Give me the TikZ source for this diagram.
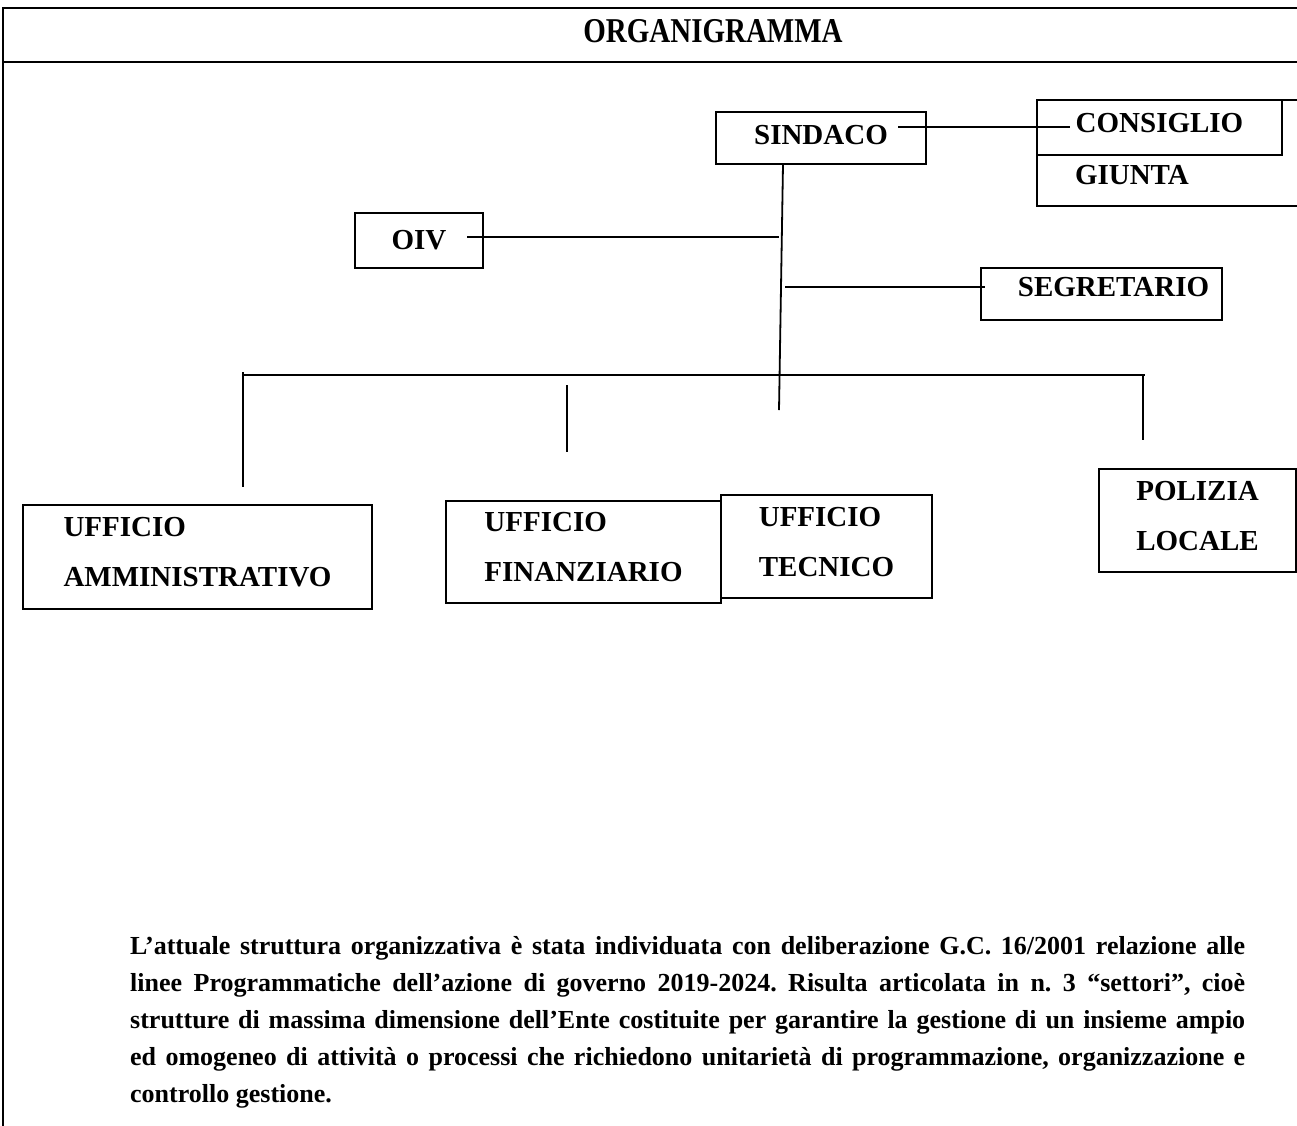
\documentclass[tikz,border=0pt]{standalone}
\usepackage{fontspec}
\setmainfont{Liberation Serif}
\usepackage{tikz}
\usetikzlibrary{positioning,calc}
\tikzset{
  office/.style={draw,line width=2.6pt,align=left,inner sep=0pt,outer sep=0pt,
    font=\bfseries\fontsize{29}{50}\selectfont},
  lift/.style={execute at end node={\rule[-#1]{0pt}{#1}}},
  link/.style={line width=1.8pt},
  frame/.style={line width=2.8pt},
  caption/.style={inner sep=0pt,align=left,anchor=north west,
    font=\bfseries\fontsize{26}{37}\selectfont\frenchspacing}
}

\begin{document}
\begin{tikzpicture}[x=1pt,y=-1pt]
  \clip (0,0) rectangle (1297,1125);
  \fill[white] (0,0) rectangle (1297,1125);
  \draw[frame] (1300,8) -- (3,8) -- (3,1130);
  \draw[frame] (3,62) -- (1300,62);
  \node[font=\bfseries\fontsize{29}{34}\selectfont,yscale=1.2] (title) at (713,31) {ORGANIGRAMMA};
  \draw[office] (1037,100) rectangle (1310,206);
  \node[office, lift=6pt, minimum width=210pt, minimum height=52pt] (sindaco) at (821,138) {SINDACO};
  \node[office, lift=10pt, minimum width=245pt, minimum height=55pt] (consiglio) at (1159.5,127.5) {CONSIGLIO};
  \node[office, draw=none, anchor=base west] (giunta) at (1075,184) {GIUNTA};
  \node[office, minimum width=128pt, minimum height=55pt] (oiv) at (419,240.5) {OIV};
  \node[office, lift=14pt, minimum width=241pt, minimum height=52pt] (segretario) at (1101.5,294) {\hspace*{24pt}SEGRETARIO};
  \node[office, lift=10pt, minimum width=349pt, minimum height=104pt] (amministrativo) at (197.5,557) {UFFICIO\\AMMINISTRATIVO};
  \node[office, lift=10pt, minimum width=275pt, minimum height=102pt] (finanziario) at (583.5,552) {UFFICIO\\FINANZIARIO};
  \node[office, lift=10pt, minimum width=211pt, minimum height=103pt] (tecnico) at (826.5,546.5) {UFFICIO\\TECNICO};
  \node[office, lift=10pt, minimum width=197pt, minimum height=103pt] (polizia) at (1197.5,520.5) {POLIZIA\\LOCALE};
  \coordinate (spinetop) at ([xshift=-38pt]sindaco.south);
  \coordinate (spinebot) at (779,410);
  \coordinate (oivjoin) at (779,237);
  \coordinate (segjoin) at (785,287);
  \coordinate (busL) at (243,372);
  \coordinate (busR) at (1143,375);
  \coordinate (ammend) at (243,487);
  \coordinate (finA) at (567,385);
  \coordinate (finB) at (567,452);
  \coordinate (polend) at (1143,440);
  \draw[link] ([xshift=-28pt,yshift=11pt]sindaco.east) -- ([xshift=33pt,yshift=0.5pt]consiglio.west);
  \draw[link] (spinetop) -- (spinebot);
  \draw[link] ([xshift=-16pt,yshift=3.5pt]oiv.east) -- (oivjoin);
  \draw[link] (segjoin) -- ([xshift=4pt,yshift=7pt]segretario.west);
  \draw[link] (busL |- busR) -- ([xshift=2pt]busR);
  \draw[link] (busL) -- (ammend);
  \draw[link] (finA) -- (finB);
  \draw[link] (busR) -- (polend);
  \node[caption] (testo) at (130,936) {%
    \makebox[1115pt][s]{L’attuale struttura organizzativa è stata individuata con deliberazione G.C. 16/2001 relazione alle}\\
    \makebox[1115pt][s]{linee Programmatiche dell’azione di governo 2019-2024. Risulta articolata in n. 3 “settori”, cioè}\\
    \makebox[1115pt][s]{strutture di massima dimensione dell’Ente costituite per garantire la gestione di un insieme ampio}\\
    \makebox[1115pt][s]{ed omogeneo di attività o processi che richiedono unitarietà di programmazione, organizzazione e}\\
    controllo gestione.};
\end{tikzpicture}
\end{document}
